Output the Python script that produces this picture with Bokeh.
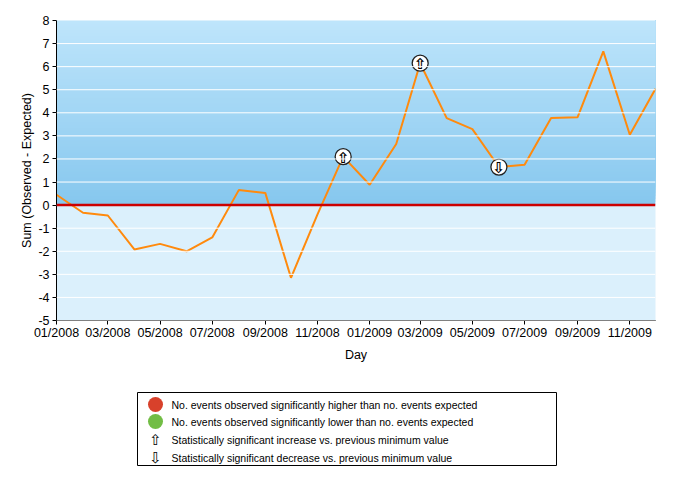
from datetime import datetime
import numpy as np
from bokeh.plotting import figure
from bokeh.layouts import column
from bokeh.models import Range1d, FixedTicker, DatetimeTickFormatter, ColumnDataSource, Span
from bokeh.core.properties import value
from bokeh.embed import file_html
from bokeh.resources import INLINE

# ---- data ----
months = [datetime(2008 + (i // 12), i % 12 + 1, 1) for i in range(24)]
values = [0.45, -0.33, -0.45, -1.92, -1.68, -2.0, -1.40, 0.65, 0.53, -3.15, -0.4, 2.1,
          0.88, 2.65, 6.15, 3.77, 3.29, 1.65, 1.75, 3.78, 3.81, 6.66, 3.05, 5.04]
up_idx = [11, 14]
down_idx = [17]
tick_months = [datetime(2008 + (i // 12), i % 12 + 1, 1) for i in range(0, 24, 2)]
y_ticks = list(range(-5, 9))
y_tick_labels = [str(v) for v in y_ticks]
legend_labels = [
    "No. events observed significantly higher than no. events expected",
    "No. events observed significantly lower than no. events expected",
    "Statistically significant increase vs. previous minimum value",
    "Statistically significant decrease vs. previous minimum value",
]
legend_colors = ["#D8412B", "#72BD45"]
legend_arrows = ["\u21e7", "\u21e9"]

FONT = "Liberation Sans"

x0, x1 = months[0], months[-1]
p = figure(width=668, height=380, x_axis_type="datetime",
           x_range=Range1d(x0, x1), y_range=Range1d(-5, 8),
           output_backend="svg", toolbar_location=None,
           min_border_left=56, min_border_right=13, min_border_top=20, min_border_bottom=60)
p.outline_line_color = None
p.background_fill_color = "#DBF0FC"
p.border_fill_color = "white"

# gradient band above zero (styling): stacked quads, each reaching the top, no seams
n = 60
top_c = np.array([190, 229, 251])
bot_c = np.array([134, 199, 238])
edges = np.linspace(0, 8, n + 1)
cols = []
for k in range(n):
    t = (edges[k] + edges[k + 1]) / 2 / 8
    c = bot_c + (top_c - bot_c) * t
    cols.append("#%02x%02x%02x" % tuple(int(round(v)) for v in c))
p.quad(left=[x0] * n, right=[x1] * n, bottom=edges[:-1], top=[8] * n,
       fill_color=cols, line_color=None)

p.grid.visible = False
for yv in y_ticks:
    p.add_layout(Span(location=yv, dimension="width", line_color="white", line_width=1))
p.add_layout(Span(location=0, dimension="width", line_color="#CC0000", line_width=2.5))

p.line(months, values, line_color="#FF8A0D", line_width=2)

up_src = ColumnDataSource(dict(x=[months[i] for i in up_idx], y=[values[i] for i in up_idx]))
dn_src = ColumnDataSource(dict(x=[months[i] for i in down_idx], y=[values[i] for i in down_idx]))
for src, arrow in ((up_src, "\u21e7"), (dn_src, "\u21e9")):
    p.scatter("x", "y", source=src, size=16, fill_color="white", line_color="#222222", line_width=1.3)
    p.text("x", "y", text=value(arrow), source=src, text_align="center", text_baseline="middle",
           text_font=value("DejaVu Sans"), text_font_size="15px", text_font_style="bold",
           text_color="black", y_offset=1)

p.xaxis.ticker = FixedTicker(ticks=[m.timestamp() * 1000 for m in tick_months])
p.xaxis.formatter = DatetimeTickFormatter(months="%m/%Y", days="%m/%Y", years="%m/%Y")
p.yaxis.ticker = FixedTicker(ticks=y_ticks)
p.yaxis.major_label_overrides = {v: s for v, s in zip(y_ticks, y_tick_labels)}
for ax in (p.xaxis[0], p.yaxis[0]):
    ax.minor_tick_line_color = None
    ax.major_tick_out = 4
    ax.major_tick_in = 0
    ax.axis_line_color = "black"
    ax.major_tick_line_color = "black"
    ax.major_label_text_font = FONT
    ax.major_label_text_font_size = "12.5px"
    ax.major_label_text_color = "black"
    ax.axis_label_text_font = FONT
    ax.axis_label_text_font_size = "12.5px"
    ax.axis_label_text_font_style = "normal"
    ax.axis_label_text_color = "black"
p.xaxis.axis_label = "Day"
p.yaxis.axis_label = "Sum (Observed - Expected)"
p.xaxis.major_label_standoff = 1
p.yaxis.major_label_standoff = 3
p.xaxis.axis_label_standoff = 5
p.yaxis.axis_label_standoff = 1

# ---- legend figure (its frame is aligned with the main frame: 56..655 px) ----
leg = figure(width=668, height=95, x_range=Range1d(56, 655), y_range=Range1d(95, 0),
             x_axis_location=None, y_axis_location=None,
             output_backend="svg", toolbar_location=None,
             min_border=0, min_border_left=56, min_border_right=13, min_border_top=0, min_border_bottom=0)
leg.grid.visible = False
leg.outline_line_color = None
leg.quad(left=[137], right=[556], top=[12], bottom=[85], fill_color="white", line_color="black", line_width=1)
rows_y = [24, 41, 59, 77]
leg.scatter([155, 155], rows_y[:2], size=15, fill_color=legend_colors, line_color=None)
leg.text([155, 155], rows_y[2:], text=legend_arrows, text_align="center", text_baseline="middle",
         text_font=value("DejaVu Sans"), text_font_size="15px", text_color="black")
leg.text([171] * 4, rows_y, text=legend_labels, text_align="left", text_baseline="middle",
         text_font=value(FONT), text_font_size="10.5px", text_color="black")

layout = column(p, leg, spacing=0)
open("out.html", "w").write(file_html(layout, INLINE))
